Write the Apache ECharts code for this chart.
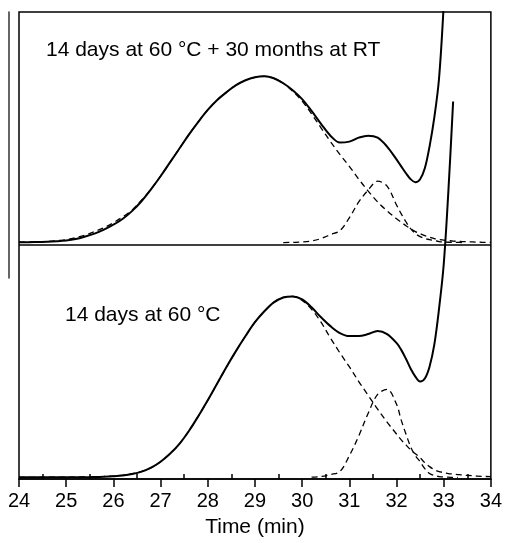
<!DOCTYPE html>
<html>
<head>
<meta charset="utf-8">
<script src="https://cdn.jsdelivr.net/npm/echarts@6/dist/echarts.min.js"></script>
<style>
  html, body { margin: 0; padding: 0; background: #fff; }
  #chart { width: 505px; height: 543px; }
</style>
</head>
<body>
<div id="chart"></div>
<script>
// Retention time grid (min): coarse on the main peak, finer where the late eluent rises
const time = [24.0,24.2,24.4,24.6,24.8,25.0,25.2,25.4,25.6,25.8,
              26.0,26.2,26.4,26.6,26.8,27.0,27.2,27.4,27.6,27.8,
              28.0,28.2,28.4,28.6,28.8,29.0,29.2,29.4,29.6,29.8,
              30.0,30.2,30.4,30.6,30.8,31.0,31.2,31.4,31.6,31.8,
              32.0,32.1,32.2,32.3,32.4,32.5,32.6,32.7,32.8,32.9,
              33.0,33.1,33.2,33.3,33.4,33.6,33.8,34.0];

// Upper trace: 14 days at 60 °C + 30 months at RT (detector response, a.u.)
const agedSignal = [0.3,0.3,0.5,0.7,1.2,2,3.5,6,9,13,
                    18,24,32,42,54,67,81,95,109,122,
                    134,144,152,159,164,167,168,166,161,154,
                    145,133,120,108,101,102,106,108,106,97,
                    84,77,70,64,61,64,75,97,126,165,
                    240,null,null,null,null,null,null,null];
const agedFitMain = [0.3,0.4,0.7,1.1,1.8,3,5,7.5,11,15,
                     20,26,33,43,54,67,81,95,109,122,
                     134,144,152,159,164,167,168,166,161,153,
                     143,130,116,102,89,77,64,52,41,32,
                     24,20.5,17,14,11,9,7,5.5,4,3,
                     2.5,2,1.5,1.2,1,0.6,0.3,0.2];
const agedFitSide = [null,null,null,null,null,null,null,null,null,null,
                     null,null,null,null,null,null,null,null,null,null,
                     null,null,null,null,null,null,null,null,0,0.2,
                     0.5,1.5,4,8,12,25,41,53,62,57,
                     38,29,21,14,9,6,4,3,2,1,
                     0.5,0.3,0.2,0.1,0,null,null,null];

// Lower trace: 14 days at 60 °C
const heatedSignal = [0.2,0.2,0.2,0.2,0.2,0.2,0.2,0.3,0.4,0.7,
                      1.2,2,3.5,6,10,16,24,34,47,62,
                      78,95,112,128,143,157,168,177,182,183,
                      180,172,162,153,146,143,143,145,148,145,
                      136,129,120,110,102,97,100,112,134,170,
                      215,290,380,null,null,null,null,null];
const heatedFitMain = [0.2,0.2,0.2,0.3,0.3,0.4,0.5,0.6,0.8,1.1,
                       1.6,2.4,3.8,6.2,10,16,24,34,47,62,
                       78,95,112,128,143,157,168,177,182,183,
                       179,170,157,141,126,112,97,83,69,56,
                       44,38,33,28,24,20,15,11,8,6,
                       5,4,3.5,3,2.5,1.8,1.2,0.8];
const heatedFitSide = [null,null,null,null,null,null,null,null,null,null,
                       null,null,null,null,null,null,null,null,null,null,
                       null,null,null,null,null,null,null,null,null,null,
                       null,0.3,1,3,6,22,42,65,84,89,
                       74,58,44,31,22,16,9,4,2,1,
                       0.5,0.3,0.1,0,null,null,null,null];

const panelLabels = ['14 days at 60 °C + 30 months at RT', '14 days at 60 °C'];
const xTicks = { min: 24, max: 34, step: 1 };

// Stacked-offset layout: both traces share one y scale
const yMax = 472;
const upperBase = 239;
const lowerBase = 1.5;
const divider = 237;

const FONT = 'Liberation Sans, Arial, sans-serif';

function pairs(values, base) {
  const out = [];
  values.forEach((v, i) => { if (v !== null) out.push([time[i], v + base]); });
  return out;
}

function trace(values, base, dashed, extra) {
  return Object.assign({
    type: 'line',
    xAxisIndex: 0,
    yAxisIndex: 0,
    data: pairs(values, base),
    showSymbol: false,
    smooth: 0.35,
    clip: true,
    silent: true,
    lineStyle: dashed
      ? { color: '#000', width: 1.3, type: [6, 4] }
      : { color: '#000', width: 2 },
    z: dashed ? 2 : 3
  }, extra || {});
}

const chart = echarts.init(document.getElementById('chart'), null, { renderer: 'canvas' });

const textStyle = { fontSize: 21, fontWeight: 'normal', fontFamily: FONT, color: '#000' };

chart.setOption({
  animation: false,
  backgroundColor: '#fff',
  title: [
    { text: panelLabels[0], left: 46, top: 40, padding: 0, textStyle: textStyle },
    { text: panelLabels[1], left: 65, top: 305, padding: 0, textStyle: textStyle }
  ],
  grid: [
    { left: 19, right: 14, top: 12, bottom: 59, show: true,
      borderColor: '#000', borderWidth: 1.5, backgroundColor: 'transparent' },
    { left: 9, top: 12, height: 266, width: 6 }
  ],
  xAxis: [
    { type: 'value', gridIndex: 0, position: 'bottom',
      min: xTicks.min, max: xTicks.max, interval: xTicks.step,
      axisLine: { show: true, onZero: false, lineStyle: { color: '#000', width: 1.5 } },
      axisTick: { show: true, length: 8, lineStyle: { color: '#000', width: 1.5 } },
      axisLabel: { margin: 12, fontSize: 20, color: '#000', fontFamily: FONT },
      splitLine: { show: false },
      name: 'Time (min)', nameLocation: 'middle', nameGap: 38,
      nameTextStyle: { fontSize: 21, color: '#000', fontFamily: FONT } },
    { type: 'value', gridIndex: 0, position: 'bottom',
      min: xTicks.min, max: xTicks.max, interval: xTicks.step,
      axisLine: { show: false },
      axisTick: { show: false, inside: true },
      minorTick: { show: true, splitNumber: 2, length: 5, lineStyle: { color: '#000', width: 1.5 } },
      axisLabel: { show: false },
      splitLine: { show: false } },
    { type: 'value', gridIndex: 1, min: 0, max: 1, show: false }
  ],
  yAxis: [
    { type: 'value', gridIndex: 0, min: 0, max: yMax, show: false },
    { type: 'value', gridIndex: 1, min: 0, max: 1, position: 'left',
      axisLine: { show: true, lineStyle: { color: '#333', width: 1.5 } },
      axisTick: { show: false }, axisLabel: { show: false }, splitLine: { show: false } }
  ],
  series: [
    trace(agedFitMain, upperBase, true),
    trace(agedFitSide, upperBase, true),
    trace(agedSignal, upperBase, false),
    trace(heatedFitMain, lowerBase, true),
    trace(heatedFitSide, lowerBase, true),
    trace(heatedSignal, lowerBase, false, {
      markLine: {
        silent: true,
        symbol: ['none', 'none'],
        label: { show: false },
        lineStyle: { color: '#000', type: 'solid', width: 1.5 },
        data: [{ yAxis: divider }]
      }
    })
  ]
});
</script>
</body>
</html>
